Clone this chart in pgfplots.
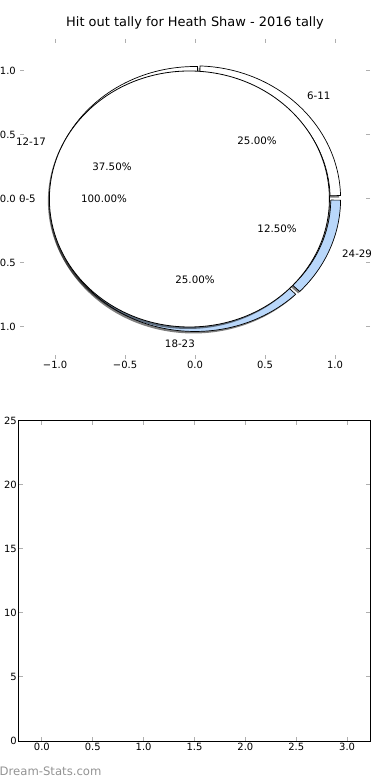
\documentclass[border=0pt]{standalone}
\usepackage{pgfplots}
\pgfplotsset{compat=1.18}
\usepackage{fontspec}
\setmainfont{DejaVu Sans}
\definecolor{ringblue}{RGB}{185,215,250}
\definecolor{tickgray}{RGB}{175,175,175}
% ring wedge: fill, start angle, end angle, inner r, outer r
\newcommand{\ringwedge}[6][]{%
  \filldraw[fill=#2, draw=black, line width=0.7bp, #1]
    (axis cs:{#5*cos(#3)},{#5*sin(#3)}) -- (axis cs:{#6*cos(#3)},{#6*sin(#3)})
    arc[start angle=#3, end angle=#4, x radius=#6, y radius=#6]
    -- (axis cs:{#5*cos(#4)},{#5*sin(#4)})
    arc[start angle=#4, end angle=#3, x radius=#5, y radius=#5] -- cycle;}
\begin{document}
\begin{tikzpicture}
\path[use as bounding box] (0,0) rectangle (390bp,780bp);
\pgfplotsset{
  every axis/.append style={
    scale only axis,
    tick align=inside,
    major tick length=4bp,
    tick style={tickgray, line width=1bp},
    tick label style={font=\fontsize{10}{12}\selectfont},
  }
}
% ---------- top: pie ----------
\begin{axis}[
  at={(20bp,421bp)}, anchor=south west,
  width=350bp, height=320bp,
  xmin=-1.25, xmax=1.25, ymin=-1.25, ymax=1.25,
  axis line style={draw=none},
  clip=false,
  xtick={-1,-0.5,0,0.5,1},
  xticklabels={−1.0,−0.5,0.0,0.5,1.0},
  ytick={-1,-0.5,0,0.5,1},
  yticklabels={−1.0,−0.5,0.0,0.5,1.0},
  xticklabel style={inner sep=1bp, yshift=-1bp},
  yticklabel style={inner sep=1bp, xshift=-3bp},
  title={Hit out tally for Heath Shaw - 2016 tally},
  title style={font=\fontsize{13}{15}\selectfont, at={(0.5,1)}, anchor=south, yshift=4bp, inner sep=0pt},
]
% outer ring (clockwise from 90 deg): 6-11 25%, 24-29 12.5%, 18-23 25%, 12-17 37.5%
% shadows
\ringwedge[draw=none, fill opacity=0.5, xshift=-1.5bp, yshift=-2bp]{black}{88}{1.5}{0.965}{1.04}
\ringwedge[draw=none, fill opacity=0.5, xshift=-1.5bp, yshift=-2bp]{black}{-0.5}{-44}{0.97}{1.04}
\ringwedge[draw=none, fill opacity=0.5, xshift=-1.5bp, yshift=-2bp]{black}{-46}{-135}{0.97}{1.035}
\ringwedge[draw=none, fill opacity=0.5, xshift=-1.5bp, yshift=-2bp]{black}{-135}{-271}{0.97}{1.035}
% wedges
\ringwedge{white}{88}{1.5}{0.965}{1.04}
\ringwedge{ringblue}{-0.5}{-44}{0.97}{1.04}
\ringwedge{ringblue}{-46}{-135}{0.97}{1.035}
\ringwedge{white}{-135}{-271}{0.97}{1.035}
% inner pie: 0-5 100%
\fill[black, fill opacity=0.5, xshift=-1.5bp, yshift=-2bp] (axis cs:-0.04,0) ellipse[x radius=1, y radius=1];
\filldraw[fill=white, draw=black, line width=0.8bp] (axis cs:-0.04,0) ellipse[x radius=1, y radius=1];
% labels
\begin{scope}[every node/.style={font=\fontsize{10.3}{12}\selectfont, inner sep=0pt}]
\node[anchor=west] at (axis cs:0.80,0.805) {6-11};
\node[anchor=west] at (axis cs:1.05,-0.43) {24-29};
\node[anchor=east] at (axis cs:0.0,-1.133) {18-23};
\node[anchor=east] at (axis cs:-1.064,0.445) {12-17};
\node[anchor=east] at (axis cs:-1.136,0.0) {0-5};
\node at (axis cs:0.443,0.453) {25.00\%};
\node at (axis cs:0.586,-0.234) {12.50\%};
\node at (axis cs:0.0,-0.633) {25.00\%};
\node at (axis cs:-0.593,0.25) {37.50\%};
\node at (axis cs:-0.65,0.0) {100.00\%};
\end{scope}
\end{axis}
% ---------- bottom: empty axes ----------
\begin{axis}[
  at={(19bp,39bp)}, anchor=south west,
  width=351bp, height=320bp,
  xmin=-0.225, xmax=3.225, ymin=0, ymax=25,
  axis line style={black, line width=1bp},
  xtick={0,0.5,1,1.5,2,2.5,3},
  xticklabels={0.0,0.5,1.0,1.5,2.0,2.5,3.0},
  ytick={0,5,10,15,20,25},
  yticklabels={0,5,10,15,20,25},
  xticklabel style={inner sep=1bp, yshift=-1bp},
  yticklabel style={inner sep=1bp, xshift=-1bp},
]
\addplot[draw=none, forget plot] coordinates {(0,0)};
\end{axis}
\node[anchor=base west, inner sep=0pt, text=gray!85, font=\fontsize{11.7}{13}\selectfont] at (-0.5bp,5bp) {Dream-Stats.com};
\end{tikzpicture}
\end{document}
